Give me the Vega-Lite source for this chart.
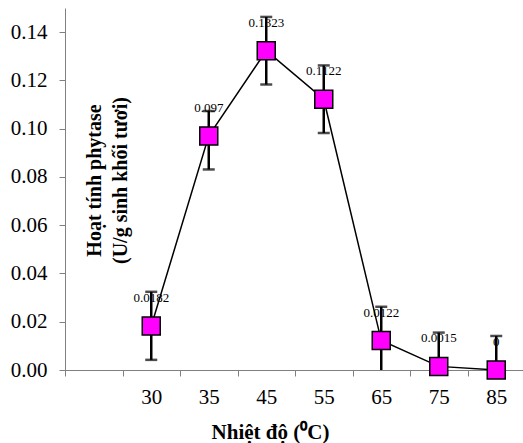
{
  "$schema": "https://vega.github.io/schema/vega-lite/v6.json",
  "width": 460,
  "height": 362,
  "autosize": {"type": "none"},
  "padding": {"left": 65, "top": 8, "right": 0, "bottom": 73},
  "background": "white",
  "config": {
    "view": {"stroke": null},
    "font": "Times New Roman, Liberation Serif, serif",
    "axis": {"grid": false, "domainColor": "#808080", "tickColor": "#808080", "labelColor": "black", "labelFont": "Times New Roman, Liberation Serif, serif", "titleFont": "Times New Roman, Liberation Serif, serif", "titleColor": "black"}
  },
  "data": {
    "values": [
      {"t": "30", "v": 0.0182, "lo": 0.0042, "hi": 0.0324, "lab": "0.0182"},
      {"t": "35", "v": 0.097, "lo": 0.0831, "hi": 0.1073, "lab": "0.097"},
      {"t": "45", "v": 0.1323, "lo": 0.1183, "hi": 0.1463, "lab": "0.1323"},
      {"t": "55", "v": 0.1122, "lo": 0.0982, "hi": 0.1262, "lab": "0.1122"},
      {"t": "65", "v": 0.0122, "lo": -0.0018, "hi": 0.0262, "lab": "0.0122"},
      {"t": "75", "v": 0.0015, "lo": -0.0125, "hi": 0.0155, "lab": "0.0015"},
      {"t": "85", "v": 0.0, "lo": -0.0141, "hi": 0.0141, "lab": "0"}
    ]
  },
  "encoding": {
    "x": {
      "field": "t",
      "type": "nominal",
      "sort": null,
      "scale": {"type": "band", "domain": ["", "30", "35", "45", "55", "65", "75", "85"], "paddingInner": 0, "paddingOuter": 0},
      "axis": {
        "title": "Nhiệt độ (⁰C)",
        "titleFontSize": 21,
        "titleFontWeight": "bold",
        "titleX": 205,
        "titleY": 62,
        "titleBaseline": "middle",
        "labelAngle": 0,
        "labelFontSize": 21,
        "labelPadding": 10,
        "tickSize": 6,
        "tickBand": "extent",
        "labelBaseline": "top"
      }
    }
  },
  "layer": [
    {
      "mark": {"type": "text", "fontSize": 13, "font": "Times New Roman, Liberation Serif, serif", "color": "black", "baseline": "middle", "dy": -28},
      "encoding": {
        "y": {"field": "v", "type": "quantitative"},
        "text": {"field": "lab"}
      }
    },
    {
      "mark": {"type": "rule", "color": "black", "strokeWidth": 2.5, "clip": true},
      "encoding": {
        "y": {"field": "lo", "type": "quantitative"},
        "y2": {"field": "hi"}
      }
    },
    {
      "mark": {"type": "tick", "color": "black", "size": 12, "thickness": 2.5, "orient": "horizontal", "clip": true},
      "encoding": {"y": {"field": "hi", "type": "quantitative"}}
    },
    {
      "mark": {"type": "tick", "color": "black", "size": 12, "thickness": 2.5, "orient": "horizontal", "clip": true},
      "encoding": {"y": {"field": "lo", "type": "quantitative"}}
    },
    {
      "mark": {"type": "line", "color": "black", "strokeWidth": 1.5},
      "encoding": {"y": {"field": "v", "type": "quantitative"}}
    },
    {
      "mark": {"type": "point", "shape": "square", "filled": true, "fill": "#FF00FF", "stroke": "black", "strokeWidth": 1.5, "size": 324, "opacity": 1},
      "encoding": {
        "y": {
          "field": "v",
          "type": "quantitative",
          "scale": {"domain": [0, 0.15], "nice": false, "zero": true},
          "axis": {
            "title": ["Hoạt tính phytase", "(U/g sinh khối tươi)"],
            "titleFontSize": 20,
            "titleFontWeight": "bold",
            "titleAngle": -90,
            "titleAlign": "center",
            "titleBaseline": "middle",
            "titleLineHeight": 26,
            "titleX": 29,
            "titleY": 172,
            "values": [0, 0.02, 0.04, 0.06, 0.08, 0.1, 0.12, 0.14],
            "format": ".2f",
            "labelFontSize": 21,
            "labelPadding": 12,
            "tickSize": 6
          }
        }
      }
    }
  ]
}
